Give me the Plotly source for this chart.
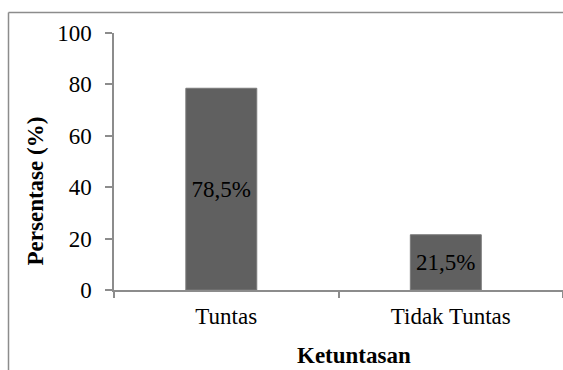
import plotly.graph_objects as go

categories = ["Tuntas", "Tidak Tuntas"]
values = [78.5, 21.5]
labels = ["78,5%", "21,5%"]
y_ticks = [0, 20, 40, 60, 80, 100]

W, H = 563, 370
L, R, T, B = 114, 0, 33, 80
pw, ph = W - L - R, H - T - B

def px(x):
    return (x - L) / pw

def py(y):
    return (H - B - y) / ph

FONT = "Liberation Serif"
AXC = "#8c8c8c"
FS = 23

fig = go.Figure(go.Bar(
    x=categories, y=values, text=labels,
    textposition="inside", insidetextanchor="middle",
    textfont=dict(family=FONT, size=FS, color="black"),
    marker=dict(color="#606060", line=dict(color="#7a7a7a", width=1)),
    width=0.316, offset=-0.18,
    cliponaxis=False,
))

fig.update_layout(
    width=W, height=H,
    margin=dict(l=L, r=R, t=T, b=B),
    paper_bgcolor="white", plot_bgcolor="white",
    showlegend=False,
    font=dict(family=FONT, size=FS, color="black"),
    uniformtext=dict(minsize=FS, mode="show"),
    xaxis=dict(
        type="category", range=[-0.5, 1.5],
        showline=True, linecolor=AXC, linewidth=1.5,
        ticks="outside", tickson="boundaries", ticklen=6, tickcolor=AXC, tickwidth=1.5,
        showgrid=False, zeroline=False,
        tickfont=dict(family=FONT, size=FS, color="black"),
        ticklabelstandoff=5,
    ),
    yaxis=dict(
        range=[0, 100], tickvals=y_ticks,
        showline=True, linecolor=AXC, linewidth=1.5,
        ticks="outside", ticklen=7, tickcolor=AXC, tickwidth=1.5,
        showgrid=False, zeroline=False,
        tickfont=dict(family=FONT, size=FS, color="black"),
        ticklabelstandoff=9,
    ),
    shapes=[
        dict(type="line", xref="paper", yref="paper", x0=px(8.5), x1=px(565), y0=py(12.5), y1=py(12.5),
             line=dict(color="#8c8c8c", width=1.5)),
        dict(type="line", xref="paper", yref="paper", x0=px(8.5), x1=px(8.5), y0=py(12.5), y1=py(372),
             line=dict(color="#8c8c8c", width=1.5)),
    ],
    annotations=[
        dict(text="<b>Ketuntasan</b>", xref="paper", yref="paper", x=px(354), y=py(355),
             xanchor="center", yanchor="middle", showarrow=False,
             font=dict(family=FONT, size=FS, color="black")),
        dict(text="<b>Persentase (%)</b>", xref="paper", yref="paper", x=px(35), y=py(191.5),
             xanchor="center", yanchor="middle", showarrow=False, textangle=-90,
             font=dict(family=FONT, size=FS, color="black")),
    ],
)

fig.write_html("out.html")
